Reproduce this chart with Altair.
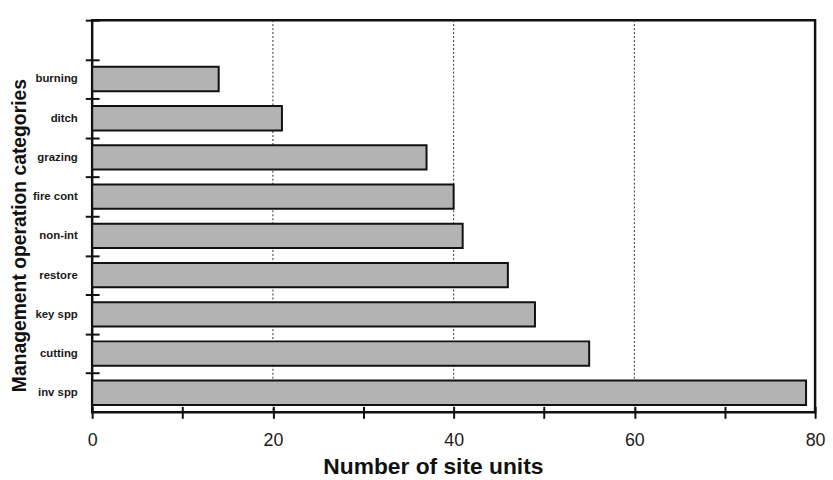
import altair as alt
import pandas as pd

categories = ["burning", "ditch", "grazing", "fire cont", "non-int",
              "restore", "key spp", "cutting", "inv spp"]
values = [14, 21, 37, 40, 41, 46, 49, 55, 79]
y_domain = [" "] + categories
x_ticks = [0, 10, 20, 30, 40, 50, 60, 70, 80]
grid_values = [20, 40, 60]

df = pd.DataFrame({"category": categories, "count": values})
grid_df = pd.DataFrame({"count": grid_values})

FONT = "Liberation Sans"

x_scale = alt.Scale(domain=[0, 80], nice=False, zero=True)
y_scale = alt.Scale(domain=y_domain, paddingInner=0.38, paddingOuter=0.19)

x_axis = alt.Axis(
    values=x_ticks,
    labelExpr="datum.value % 20 == 0 ? datum.label : ''",
    grid=False,
    domain=False,
    offset=-6,
    tickSize=12,
    tickWidth=2,
    tickColor="#111111",
    labelFont=FONT,
    labelFontSize=18,
    labelColor="#1a1a1a",
    labelPadding=13,
    labelFlush=False,
    titleFont=FONT,
    titleFontSize=23,
    titleFontWeight="bold",
    titleColor="#111111",
    titleBaseline="alphabetic",
    titleAlign="center",
    titleX=344,
    titleY=68,
)

x_enc = alt.X("count:Q", scale=x_scale, title="Number of site units", axis=x_axis)

grid = alt.Chart(grid_df).mark_rule(
    color="#333333", strokeWidth=1, strokeDash=[2, 2]
).encode(x=x_enc)

bars = alt.Chart(df).mark_bar(
    fill="#b3b3b3", stroke="#111111", strokeWidth=2, cornerRadius=0
).encode(
    x=x_enc,
    y=alt.Y(
        "category:N",
        scale=y_scale,
        sort=y_domain,
        title="Management operation categories",
        axis=alt.Axis(
            grid=False,
            domain=False,
            offset=-7,
            tickSize=14,
            tickWidth=2,
            tickColor="#111111",
            tickOffset=-19.8,
            labelOffset=19.8,
            labelFont=FONT,
            labelFontSize=11.5,
            labelFontWeight="bold",
            labelColor="#1a1a1a",
            labelPadding=8,
            titleFont=FONT,
            titleFontSize=19.5,
            titleFontWeight="bold",
            titleColor="#111111",
            titleAngle=-90,
            titleBaseline="alphabetic",
            titleAlign="center",
            titleX=-74,
            titleY=217,
        ),
    ),
)

chart = alt.layer(grid, bars).properties(
    width=730,
    height=396,
    background="white",
    autosize=alt.AutoSizeParams(type="none"),
    padding={"left": 85, "top": 10, "right": 10, "bottom": 66},
).configure_view(
    stroke="#111111", strokeWidth=2.5
)

chart.save("out.html", embed_options={"renderer": "svg", "actions": False})
